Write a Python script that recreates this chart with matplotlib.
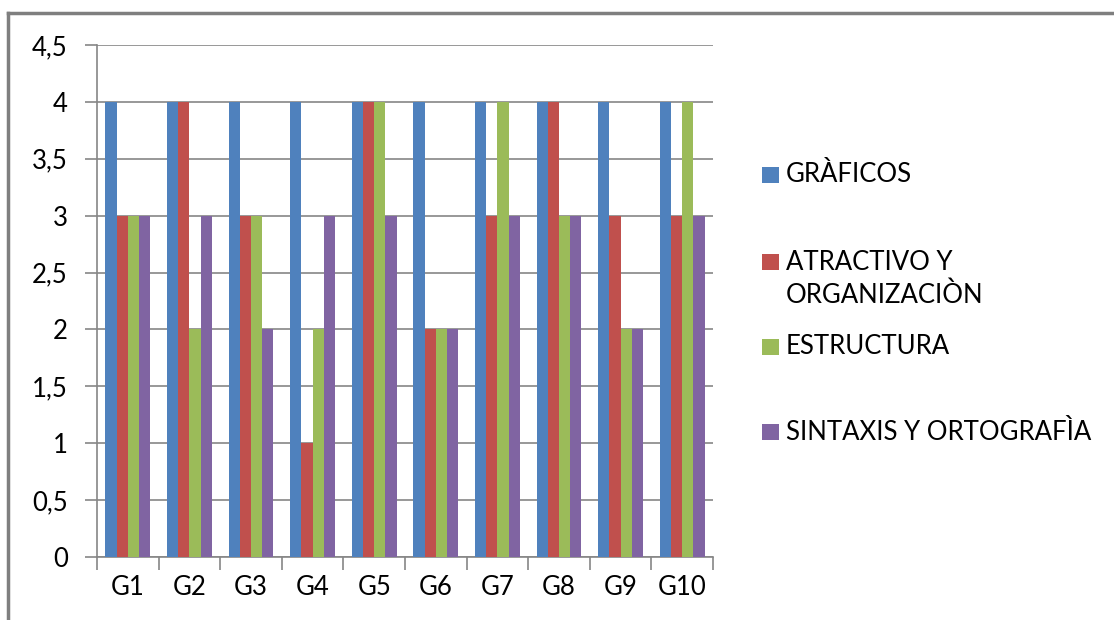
import matplotlib.pyplot as plt
import numpy as np
from matplotlib.lines import Line2D
from matplotlib.patches import Rectangle

plt.rcParams['font.family'] = ['Lato', 'DejaVu Sans']

grupos = ['G1', 'G2', 'G3', 'G4', 'G5', 'G6', 'G7', 'G8', 'G9', 'G10']
graficos = [4, 4, 4, 4, 4, 4, 4, 4, 4, 4]
atractivo = [3, 4, 3, 1, 4, 2, 3, 4, 3, 3]
estructura = [3, 2, 3, 2, 4, 2, 4, 3, 2, 4]
sintaxis = [3, 3, 2, 3, 3, 2, 3, 3, 2, 3]

series = [graficos, atractivo, estructura, sintaxis]
nombres = ['GRÀFICOS', 'ATRACTIVO Y\nORGANIZACIÒN', 'ESTRUCTURA', 'SINTAXIS Y ORTOGRAFÌA']
colores = ['#4F81BD', '#C0504D', '#9BBB59', '#8064A2']

W, H = 1114, 620
fig = plt.figure(figsize=(W / 100, H / 100), dpi=100)
ax = fig.add_axes([97 / W, 63 / H, 616 / W, 512 / H])

x = np.arange(len(grupos))
w = 1 / 5.5
for k, (vals, col) in enumerate(zip(series, colores)):
    ax.bar(x + (k - 1.5) * w, vals, width=w, color=col, zorder=3)

ax.set_xlim(-0.5, 9.5)
ax.set_ylim(0, 4.5)
yt = np.arange(0, 4.51, 0.5)
ax.set_yticks(yt)
ax.set_yticklabels([('%g' % v).replace('.', ',') for v in yt], fontsize=18.5)
ax.yaxis.grid(True, color='#868686', lw=1.2, zorder=0)
ax.set_xticks(x)
ax.set_xticklabels(grupos, fontsize=18.5)
ax.tick_params(axis='x', length=0, pad=13)
ax.tick_params(axis='y', length=9, color='#868686', width=1.2, pad=12)
# separadores entre categorias
ax.set_xticks(np.arange(-0.5, 10, 1), minor=True)
ax.tick_params(axis='x', which='minor', length=9, color='#868686', width=1.2)
for s in ['top', 'right']:
    ax.spines[s].set_visible(False)
for s in ['left', 'bottom']:
    ax.spines[s].set_color('#868686')
    ax.spines[s].set_linewidth(1.2)

# marco del grafico (izquierda y arriba)
fig.add_artist(Line2D([8 / W, 8 / W], [0, 1 - 13 / H], color='#7f7f7f', lw=2.5))
fig.add_artist(Line2D([8 / W, 1], [1 - 13 / H, 1 - 13 / H], color='#7f7f7f', lw=2.5))

# leyenda
ypos = [175, 262, 347, 432]
for nom, col, yp in zip(nombres, colores, ypos):
    fig.add_artist(Rectangle((762 / W, 1 - (yp + 8) / H), 17 / W, 16 / H,
                             facecolor=col, edgecolor='none'))
    lineas = nom.split('\n')
    for j, txt in enumerate(lineas):
        fig.text(786 / W, 1 - (yp + 33 * j) / H, txt, fontsize=18.5, va='center', ha='left')

fig.savefig('out.png', dpi=100)
